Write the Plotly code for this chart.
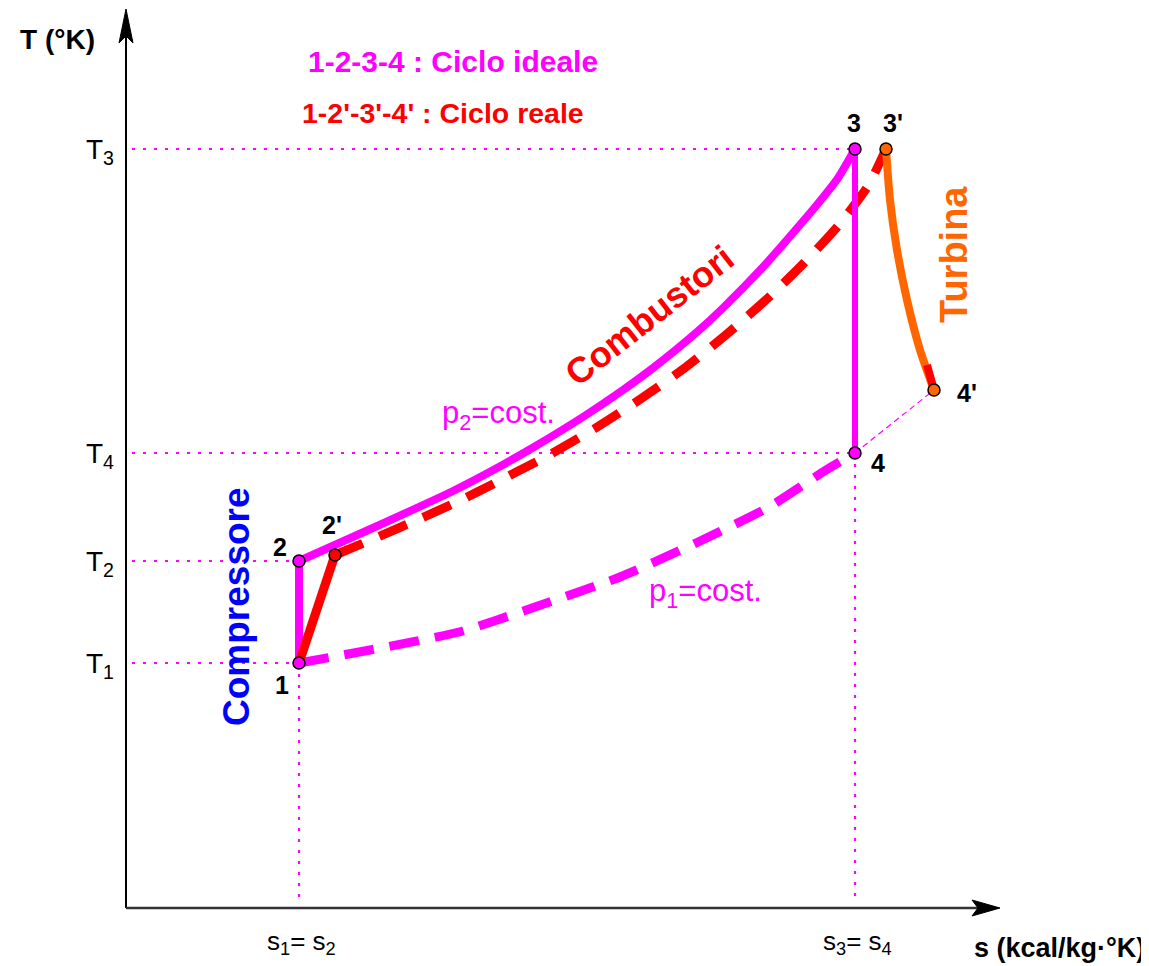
import plotly.graph_objects as go

# ---------------- data (s, T in chart units) ----------------
# state points
pt_names = ["1", "2", "2'", "3", "3'", "4", "4'"]
pt_s = [173, 173, 209, 729, 760, 729, 808]
pt_T = [245, 347, 353, 759, 759, 455, 518]

# ideal heat addition 2 -> 3 (p2 = cost.)
heat_ideal_s = [173, 249, 327, 371, 408, 460, 497, 527, 571, 597, 638, 660, 690, 712, 729]
heat_ideal_T = [347, 381, 417, 440, 461, 493, 518, 540, 576, 600, 642, 667, 702, 730, 759]

# real heat addition 2' -> 3'
heat_real_s = [209, 275, 331, 371, 423, 468, 516, 560, 601, 642, 675, 712, 742, 760]
heat_real_T = [353, 381, 406, 426, 453, 479, 510, 541, 574, 610, 642, 682, 722, 759]

# heat rejection 1 -> 4 (p1 = cost.)
cool_s = [173, 244, 333, 409, 494, 570, 643, 700, 729]
cool_T = [245, 258, 276, 301, 331, 365, 401, 438, 455]

# real turbine expansion 3' -> 4'
turb_s = [760, 764, 771, 781, 794, 808]
turb_T = [759, 708, 658, 608, 558, 518]
turb_tail_s = [801, 808]
turb_tail_T = [543, 518]

# axis ticks
T_tick_vals = [245, 347, 455, 759]
T_tick_text = ["T<sub>1</sub>", "T<sub>2</sub>", "T<sub>4</sub>", "T<sub>3</sub>"]
s_tick_vals = [173, 729]
s_tick_text = ["s<sub>1</sub>= s<sub>2</sub>", "s<sub>3</sub>= s<sub>4</sub>"]

# axes extent (page has an 8px body margin)
S_MIN, S_MAX = -118, 1023
T_MIN, T_MAX = -58, 900
S_AXIS_END = 874
T_AXIS_END = 899

MAG = "#FF00FF"
RED = "#FF0000"
ORA = "#FF6600"
BLUE = "#0000FF"
FONT = "Liberation Sans, Arial, sans-serif"

P = dict(zip(pt_names, zip(pt_s, pt_T)))

fig = go.Figure()


def line(xs, ys, color, width, dash="solid"):
    fig.add_trace(go.Scatter(x=xs, y=ys, mode="lines",
                             line=dict(color=color, width=width, dash=dash),
                             hoverinfo="skip", showlegend=False))


def curve(xs, ys, color, width, dash="solid"):
    fig.add_trace(go.Scatter(x=xs, y=ys, mode="lines",
                             line=dict(color=color, width=width, dash=dash,
                                       shape="spline", smoothing=0.6),
                             hoverinfo="skip", showlegend=False))


# axes lines
line([0, 0], [0, T_AXIS_END - 28], "#000000", 2)
line([0, S_AXIS_END - 22], [0, 0], "#333333", 2.5)

# dotted guide lines
dot = "3px,8px"
for name in ["1", "2", "4", "3"]:
    s, T = P[name]
    line([6, s], [T, T], MAG, 2.2, dot)
for name in ["1", "4"]:
    s, T = P[name]
    line([s, s], [T, 4], MAG, 2.2, dot)

# thin dashed 4 -> 4'
line([P["4"][0], P["4'"][0]], [P["4"][1], P["4'"][1]], MAG, 1.2, "6px,4px")

# heat rejection (dashed magenta)
curve(cool_s, cool_T, MAG, 9, "30px,16px")

# real heat addition (dashed red)
curve(heat_real_s, heat_real_T, RED, 9, "30px,18px")

# ideal cycle solid parts
line([P["1"][0], P["2"][0]], [P["1"][1], P["2"][1]], MAG, 8)
curve(heat_ideal_s, heat_ideal_T, MAG, 8)
line([P["3"][0], P["4"][0]], [P["3"][1], P["4"][1]], MAG, 6)

# real compression 1 -> 2'
line([P["1"][0], P["2'"][0]], [P["1"][1], P["2'"][1]], RED, 9)

# real expansion 3' -> 4'
curve(turb_s, turb_T, ORA, 8)
line(turb_tail_s, turb_tail_T, RED, 8)

# state point markers
pt_colors = {"1": MAG, "2": MAG, "2'": RED, "3": MAG, "3'": ORA, "4": MAG, "4'": ORA}
fig.add_trace(go.Scatter(
    x=pt_s, y=pt_T, mode="markers",
    marker=dict(size=12, color=[pt_colors[n] for n in pt_names],
                line=dict(color="#000000", width=1.5)),
    hoverinfo="skip", showlegend=False, cliponaxis=False))

# arrow heads (axes)
fig.add_shape(type="path", xref="x", yref="y",
              path=f"M -7,{T_AXIS_END - 34} L 0,{T_AXIS_END} L 7,{T_AXIS_END - 34} L 0,{T_AXIS_END - 27} Z",
              fillcolor="#000000", line=dict(color="#000000", width=1))
fig.add_shape(type="path", xref="x", yref="y",
              path=f"M {S_AXIS_END - 28},-8 L {S_AXIS_END},0 L {S_AXIS_END - 28},8 L {S_AXIS_END - 22},0 Z",
              fillcolor="#000000", line=dict(color="#000000", width=1))

ann = []


def text(x, y, t, size, color="#000000", bold=False, angle=0, xanchor="center", yanchor="middle"):
    ann.append(dict(x=x, y=y, xref="x", yref="y", text=(f"<b>{t}</b>" if bold else t),
                    showarrow=False, textangle=angle, xanchor=xanchor, yanchor=yanchor,
                    font=dict(family=FONT, size=size, color=color)))


# tick labels
for v, t in zip(T_tick_vals, T_tick_text):
    text(-10, v - 2, t, 28, xanchor="right")
for v, t in zip(s_tick_vals, s_tick_text):
    text(v + 2, -34, t, 26)

# point labels
lab_pos = {"1": (156, 223), "2": (154, 361), "2'": (206, 383), "3": (728, 785),
           "3'": (767, 785), "4": (752, 445), "4'": (841, 515)}
for n in pt_names:
    x, y = lab_pos[n]
    text(x, y, n, 25, bold=True)

# descriptive labels
text(110, 301, "Compressore", 37, BLUE, bold=True, angle=-90)
text(523, 593, "Combustori", 36, RED, bold=True, angle=-38)
text(828, 653, "Turbina", 38, ORA, bold=True, angle=-90)
text(372, 493, "p<sub>2</sub>=cost.", 31, MAG)
text(579, 315, "p<sub>1</sub>=cost.", 31, MAG)
text(180, 847, "1-2-3-4 : Ciclo ideale", 30, MAG, bold=True, xanchor="left")
text(174, 795, "1-2'-3'-4' : Ciclo reale", 28.5, RED, bold=True, xanchor="left")
text(-69, 869, "T (°K)", 28, bold=True)
text(1021, -40, "s (kcal/kg·°K)", 27, bold=True, xanchor="right")

fig.update_layout(
    width=1141, height=958,
    margin=dict(l=0, r=0, t=0, b=0),
    paper_bgcolor="#FFFFFF", plot_bgcolor="#FFFFFF",
    xaxis=dict(range=[S_MIN, S_MAX], visible=False, fixedrange=True),
    yaxis=dict(range=[T_MIN, T_MAX], visible=False, fixedrange=True),
    annotations=ann,
    showlegend=False,
)

fig.write_html("out.html")
